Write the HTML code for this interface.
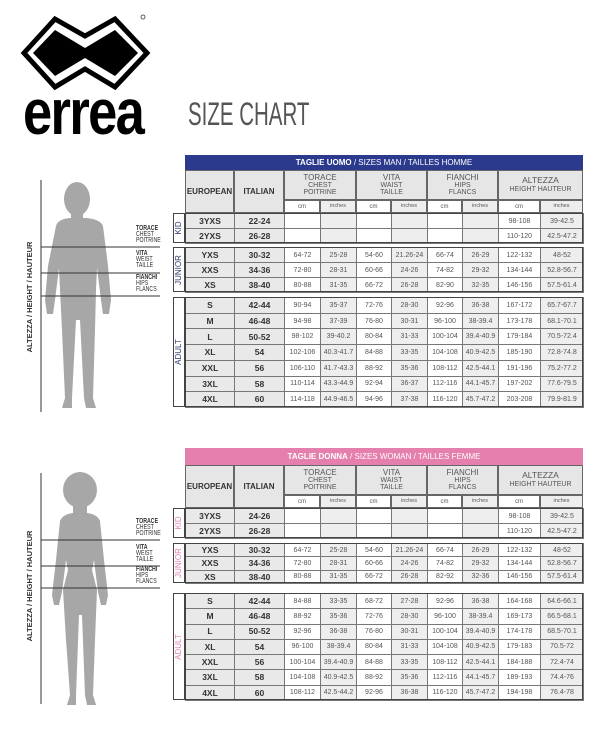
<!DOCTYPE html>
<html><head><meta charset="utf-8"><style>
*{margin:0;padding:0;box-sizing:border-box}
body{width:606px;height:739px;background:#fff;position:relative;overflow:hidden;font-family:"Liberation Sans Narrow","Liberation Sans",sans-serif}
.c{position:absolute;display:flex;align-items:center;justify-content:center;text-align:center;color:#555;font-size:7px;line-height:1;white-space:nowrap}
.b{font-weight:bold;color:#333;font-size:9px;font-family:"Liberation Sans",sans-serif}
.t{position:absolute;font-family:"Liberation Sans Narrow","Liberation Sans",sans-serif;line-height:1;white-space:nowrap}
</style></head><body>
<svg width="606" height="739" style="position:absolute;left:0;top:0">
<polygon points="24,53 55,19 85,36 115,19 147,53 115,87 85,69 55,87" fill="none" stroke="#000" stroke-width="5" stroke-linejoin="miter"/>
<polygon points="33,53 55,30 85,48 115,30 138,53 115,76 85,58 55,76" fill="#000"/>
<circle cx="143" cy="17" r="2" fill="none" stroke="#333" stroke-width="0.8"/>
<g fill="#a7a7a7">
<ellipse cx="77" cy="199" rx="13" ry="17"/>
<rect x="71" y="212" width="12" height="12"/>
<path d="M56,226 Q58,219 70,218 L86,218 Q100,219 103,226 L108,266 L111,300 L109,314 L103,314 L101,300 L97,268 L96,290 L95,330 L93,398 L96,408 L86,408 L84,398 L80,320 L76,320 L72,398 L72,408 L62,408 L65,398 L62,330 L60,290 L59,268 L55,300 L53,314 L47,314 L45,300 L48,266 Z"/>
<ellipse cx="80" cy="490" rx="17" ry="18"/>
<rect x="73" y="500" width="14" height="17"/>
<path d="M60,521 Q63,514 73,513 L87,513 Q97,514 100,521 L104,560 L108,595 L106,605 L101,605 L98,592 L94,560 L92,570 L97,590 L95,640 L93,695 L96,705 L87,705 L85,695 L82,615 L79,615 L76,695 L76,705 L67,705 L70,695 L66,640 L63,590 L68,570 L66,560 L62,592 L59,605 L54,605 L52,595 L56,560 Z"/>
</g>
<g stroke="#333" stroke-width="1">
<line x1="41" y1="180" x2="41" y2="412"/>
<line x1="41" y1="247" x2="160" y2="247"/><line x1="41" y1="273" x2="160" y2="273"/><line x1="41" y1="296" x2="160" y2="296"/>
<line x1="41" y1="473" x2="41" y2="704"/>
<line x1="41" y1="540" x2="160" y2="540"/><line x1="41" y1="566" x2="160" y2="566"/><line x1="41" y1="588" x2="160" y2="588"/>
</g>
</svg>
<div class="t" style="left:23px;top:80px;font-size:64px;font-weight:bold;color:#000;letter-spacing:-2px;transform:scaleX(0.82);transform-origin:left">errea</div>
<div class="t" style="left:188px;top:98px;font-size:32px;color:#555;transform:scaleX(0.64);transform-origin:left">SIZE CHART</div>
<div id="root"></div>
<script>
var R=document.getElementById('root');
function d(x,y,w,h,txt,cls,st){var e=document.createElement('div');e.className='c '+(cls||'');e.style.cssText='left:'+x+'px;top:'+y+'px;width:'+w+'px;height:'+h+'px;'+(st||'');e.innerHTML=txt;R.appendChild(e);return e;}
var X=[185,234,284,320,356,391,427,462,498,540,583];
function fig(y0,labels){
 var L=[['TORACE','CHEST','POITRINE'],['VITA','WEIST','TAILLE'],['FIANCHI','HIPS','FLANCS']];
 labels.forEach(function(yy,i){d(136,yy,30,20,'<div style="text-align:left;font-size:7px;color:#333;line-height:6px;transform:scaleX(0.75);transform-origin:left"><b>'+L[i][0]+'</b><br>'+L[i][1]+'<br>'+L[i][2]+'</div>','','justify-content:flex-start');});
 d(-80,y0-4,220,8,'ALTEZZA / HEIGHT / HAUTEUR','','transform:rotate(-90deg);color:#333;font-size:7.5px;font-weight:bold;left:-80px;');
}
fig(297,[225,250,274]);fig(586,[518,544,566]);
function table(o){
 var col=o.col;
 d(185,o.bar,398,o.h0-o.bar,'<b>TAGLIE '+o.it+'</b>&nbsp;/ SIZES '+o.en+' / TAILLES '+o.fr,'','background:'+col+';color:#fff;font-size:8px;');
 var hy=o.h0,hm=o.h1,hb=o.h2,bs='border:1px solid #666;';
 d(185,hy,49,hb-hy,'EUROPEAN','b','background:#e6e6e6;font-size:8px;'+bs);
 d(234,hy,50,hb-hy,'ITALIAN','b','background:#e6e6e6;font-size:8px;'+bs);
 var G=[['TORACE','CHEST','POITRINE'],['VITA','WAIST','TAILLE'],['FIANCHI','HIPS','FLANCS']];
 for(var g=0;g<4;g++){var x=X[2+2*g],w=X[4+2*g]-x;
  var t=g<3?'<div style="line-height:7px"><span style="font-size:8px">'+G[g][0]+'</span><br>'+G[g][1]+'<br>'+G[g][2]+'</div>':'<div style="line-height:8px"><span style="font-size:8.5px">ALTEZZA</span><br>HEIGHT HAUTEUR</div>';
  d(x,hy,w,hm-hy,t,'','background:#e6e6e6;'+bs);
  d(x,hm,X[3+2*g]-x,hb-hm,'cm','','background:#fff;font-size:6px;'+bs);
  d(X[3+2*g],hm,X[4+2*g]-X[3+2*g],hb-hm,'inches','','background:#eee;font-size:5.5px;'+bs);}
 o.groups.forEach(function(gr){
  var rh=(gr.y2-gr.y)/gr.rows.length;
  d(173,gr.y,12,gr.y2-gr.y,'','', 'border:1px solid #444;');
  d(173+6-30,(gr.y+gr.y2)/2-5,60,10,gr.name,'','transform:rotate(-90deg);color:'+o.lab+';font-size:8px;font-family:Liberation Sans,sans-serif;');
  gr.rows.forEach(function(r,i){var yy=gr.y+i*rh;
   for(var k=0;k<10;k++){var bg=(k<2||k%2==1)?(k<2?'#e9e9e9':'#eee'):'#fff';
    d(X[k],yy,X[k+1]-X[k]+1,rh+1,r[k]||'',k<2?'b':'','background:'+bg+';border:1px solid #777;'+(k<2?'font-size:8.5px;':''));}
  });
  d(185,gr.y,398,gr.y2-gr.y,'','','border:1.5px solid #444;');
 });
}
function P(s){return s.split(' ').map(function(v){return v=='_'?'':v;});}
var M=[P('3YXS 22-24 _ _ _ _ _ _ 98-108 39-42.5'),P('2YXS 26-28 _ _ _ _ _ _ 110-120 42.5-47.2'),
P('YXS 30-32 64-72 25-28 54-60 21.26-24 66-74 26-29 122-132 48-52'),P('XXS 34-36 72-80 28-31 60-66 24-26 74-82 29-32 134-144 52.8-56.7'),P('XS 38-40 80-88 31-35 66-72 26-28 82-90 32-35 146-156 57.5-61.4'),
P('S 42-44 90-94 35-37 72-76 28-30 92-96 36-38 167-172 65.7-67.7'),P('M 46-48 94-98 37-39 76-80 30-31 96-100 38-39.4 173-178 68.1-70.1'),P('L 50-52 98-102 39-40.2 80-84 31-33 100-104 39.4-40.9 179-184 70.5-72.4'),P('XL 54 102-106 40.3-41.7 84-88 33-35 104-108 40.9-42.5 185-190 72.8-74.8'),P('XXL 56 106-110 41.7-43.3 88-92 35-36 108-112 42.5-44.1 191-196 75.2-77.2'),P('3XL 58 110-114 43.3-44.9 92-94 36-37 112-116 44.1-45.7 197-202 77.6-79.5'),P('4XL 60 114-118 44.9-46.5 94-96 37-38 116-120 45.7-47.2 203-208 79.9-81.9')];
var W=[P('3YXS 24-26 _ _ _ _ _ _ 98-108 39-42.5'),P('2YXS 26-28 _ _ _ _ _ _ 110-120 42.5-47.2'),
P('YXS 30-32 64-72 25-28 54-60 21.26-24 66-74 26-29 122-132 48-52'),P('XXS 34-36 72-80 28-31 60-66 24-26 74-82 29-32 134-144 52.8-56.7'),P('XS 38-40 80-88 31-35 66-72 26-28 82-92 32-36 146-156 57.5-61.4'),
P('S 42-44 84-88 33-35 68-72 27-28 92-96 36-38 164-168 64.6-66.1'),P('M 46-48 88-92 35-36 72-76 28-30 96-100 38-39.4 169-173 66.5-68.1'),P('L 50-52 92-96 36-38 76-80 30-31 100-104 39.4-40.9 174-178 68.5-70.1'),P('XL 54 96-100 38-39.4 80-84 31-33 104-108 40.9-42.5 179-183 70.5-72'),P('XXL 56 100-104 39.4-40.9 84-88 33-35 108-112 42.5-44.1 184-188 72.4-74'),P('3XL 58 104-108 40.9-42.5 88-92 35-36 112-116 44.1-45.7 189-193 74.4-76'),P('4XL 60 108-112 42.5-44.2 92-96 36-38 116-120 45.7-47.2 194-198 76.4-78')];
table({bar:155,h0:170,h1:200,h2:213,col:'#2b3a8c',lab:'#2b3a6c',it:'UOMO',en:'MAN',fr:'HOMME',groups:[
 {name:'KID',y:213,y2:243,rows:M.slice(0,2)},{name:'JUNIOR',y:247,y2:292,rows:M.slice(2,5)},{name:'ADULT',y:297,y2:407,rows:M.slice(5)}]});
table({bar:448,h0:465,h1:495,h2:508,col:'#e47fae',lab:'#e47fae',it:'DONNA',en:'WOMAN',fr:'FEMME',groups:[
 {name:'KID',y:508,y2:538,rows:W.slice(0,2)},{name:'JUNIOR',y:543,y2:583,rows:W.slice(2,5)},{name:'ADULT',y:593,y2:700,rows:W.slice(5)}]});
</script>
</body></html>
